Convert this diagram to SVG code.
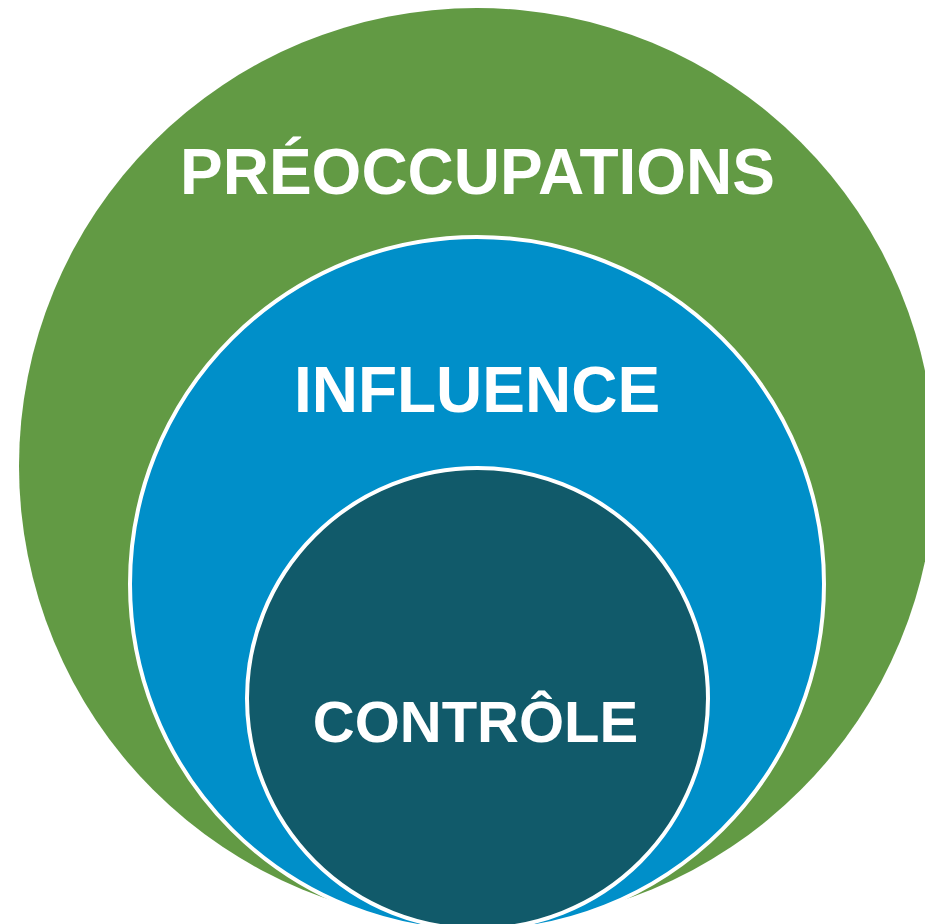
<svg xmlns="http://www.w3.org/2000/svg" width="925" height="924" viewBox="0 0 925 924">
<style>
.lbl{font-family:"Liberation Sans",Arial,sans-serif;font-weight:bold;fill:#ffffff;text-anchor:middle}
.ring{stroke:#ffffff;stroke-width:4}
</style>
<rect width="925" height="924" fill="#ffffff"/>
<g id="preoccupations">
<circle cx="477" cy="466" r="458" fill="#629a44"/>
<text class="lbl" x="477.5" y="193.5" font-size="64">PRÉOCCUPATIONS</text>
</g>
<g id="influence">
<circle class="ring" cx="477" cy="584" r="347" fill="#008fc9"/>
<text class="lbl" x="477" y="412" font-size="64">INFLUENCE</text>
</g>
<g id="controle">
<circle class="ring" cx="477.5" cy="698.5" r="230.5" fill="#115a6a"/>
<text class="lbl" x="475.5" y="742" font-size="58">CONTRÔLE</text>
</g>
<g id="connectors"/>
</svg>
